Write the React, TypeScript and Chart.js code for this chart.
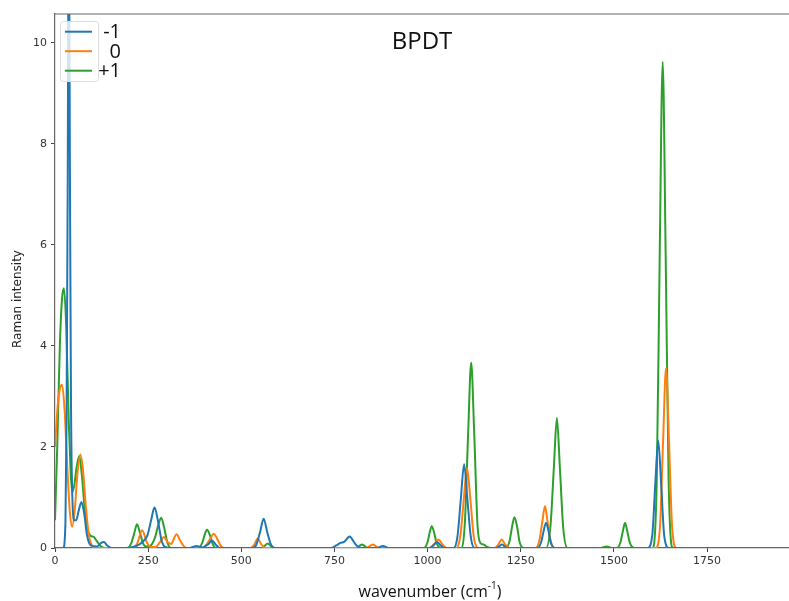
import React, { useEffect, useRef } from "react";
import { Chart, registerables } from "chart.js";

Chart.register(...registerables);

const seriesLabels = ["-1", "0", "+1"];
const seriesColors = ["#1f77b4", "#ff7f0e", "#2ca02c"];

const xTicks = [0, 250, 500, 750, 1000, 1250, 1500, 1750];
const yTicks = [0, 2, 4, 6, 8, 10];

// charge -1
const wavenumberMinus = [
  0, 22, 28, 31, 34, 37, 40, 43, 47, 52, 57, 63, 71, 78, 86, 96, 112, 124, 131, 140, 152,
  190, 215, 235, 248, 258, 267, 276, 286, 296, 310,
  360, 380, 395, 412, 421, 430, 442,
  530, 540, 550, 560, 570, 580, 590,
  740, 755, 766, 776, 791, 802, 812, 825,
  865, 880, 895,
  1005, 1018, 1025, 1034, 1045,
  1070, 1080, 1089, 1098, 1107, 1116, 1126,
  1185, 1200, 1212,
  1295, 1305, 1311, 1318, 1325, 1331, 1342,
  1590, 1603, 1611, 1619, 1627, 1635, 1648,
  1970,
];
const intensityMinus = [
  0, 0, 0.5, 2.5, 7, 13, 7.5, 2.8, 0.9, 0.55, 0.55, 0.72, 0.91, 0.7, 0.25, 0.05, 0.03, 0.1, 0.12, 0.05, 0,
  0, 0.03, 0.12, 0.25, 0.55, 0.8, 0.55, 0.15, 0.02, 0,
  0, 0.04, 0.01, 0.08, 0.15, 0.08, 0,
  0, 0.06, 0.3, 0.58, 0.3, 0.06, 0,
  0, 0.05, 0.1, 0.12, 0.23, 0.12, 0.03, 0,
  0, 0.04, 0,
  0, 0.07, 0.12, 0.06, 0,
  0, 0.22, 0.95, 1.66, 0.95, 0.22, 0,
  0, 0.07, 0,
  0, 0.12, 0.32, 0.5, 0.32, 0.1, 0,
  0, 0.25, 1.25, 2.13, 1.25, 0.25, 0,
  0,
];

// charge 0
const wavenumberNeutral = [
  0, 7, 13, 19, 26, 33, 40, 46, 53, 60, 68, 75, 83, 91, 100, 110,
  205, 220, 234, 246, 258, 270, 282, 292, 302, 312, 320, 326, 336, 348, 360,
  395, 408, 418, 426, 434, 446, 458,
  525, 535, 544, 553, 565,
  835, 853, 870,
  1005, 1018, 1029, 1040, 1052,
  1077, 1088, 1097, 1106, 1115, 1124, 1136,
  1180, 1190, 1199, 1208, 1220,
  1290, 1300, 1308, 1315, 1322, 1330, 1342,
  1612, 1624, 1632, 1640, 1648, 1656, 1668,
  1970,
];
const intensityNeutral = [
  2.0, 2.8, 3.15, 3.23, 2.7, 1.6, 0.7, 0.42, 0.75, 1.45, 1.85, 1.55, 0.8, 0.25, 0.04, 0,
  0, 0.08, 0.35, 0.12, 0.02, 0.02, 0.12, 0.22, 0.12, 0.08, 0.2, 0.27, 0.15, 0.02, 0,
  0, 0.08, 0.2, 0.28, 0.2, 0.03, 0,
  0, 0.07, 0.19, 0.08, 0,
  0, 0.07, 0,
  0, 0.08, 0.17, 0.07, 0,
  0, 0.25, 0.95, 1.58, 0.95, 0.22, 0,
  0, 0.07, 0.17, 0.07, 0,
  0, 0.15, 0.52, 0.83, 0.52, 0.15, 0,
  0, 0.45, 2.1, 3.56, 2.1, 0.45, 0,
  0,
];

// charge +1
const wavenumberPlus = [
  0, 6, 13, 19, 24, 30, 37, 42, 46, 52, 58, 65, 72, 80, 88, 96, 104, 112, 122, 135,
  195, 205, 213, 220, 228, 237, 245, 255, 268, 277, 285, 293, 302, 312,
  385, 395, 402, 408, 415, 423, 432,
  555, 571, 587,
  808, 824, 840,
  990, 1000, 1006, 1011, 1017, 1024, 1035,
  1090, 1100, 1109, 1117, 1125, 1134, 1142, 1150, 1160, 1170,
  1210, 1220, 1227, 1233, 1240, 1247, 1258,
  1318, 1330, 1339, 1347, 1355, 1364, 1376,
  1465, 1480, 1495,
  1508, 1518, 1524, 1530, 1536, 1543, 1555,
  1603, 1615, 1623, 1631, 1639, 1647, 1659,
  1970,
];
const intensityPlus = [
  0.55, 2.0, 4.0, 4.95, 5.14, 4.4, 2.5, 1.5, 1.11, 1.25, 1.6, 1.82, 1.45, 0.75, 0.35, 0.24, 0.22, 0.14, 0.04, 0,
  0, 0.1, 0.3, 0.47, 0.3, 0.08, 0.03, 0.04, 0.2, 0.45, 0.6, 0.4, 0.1, 0,
  0, 0.1, 0.27, 0.36, 0.27, 0.08, 0,
  0, 0.09, 0,
  0, 0.07, 0,
  0, 0.12, 0.32, 0.43, 0.32, 0.1, 0,
  0, 0.5, 2.3, 3.67, 2.3, 0.45, 0.1, 0.07, 0.02, 0,
  0, 0.14, 0.43, 0.61, 0.43, 0.12, 0,
  0, 0.45, 1.6, 2.58, 1.6, 0.4, 0,
  0, 0.03, 0,
  0, 0.12, 0.33, 0.5, 0.33, 0.1, 0,
  0, 1.3, 5.8, 9.62, 5.8, 1.3, 0,
  0,
];

const toPoints = (xs: number[], ys: number[]) => xs.map((x, i) => ({ x, y: ys[i] }));

const decorPlugin = {
  id: "decor",
  afterDatasetsDraw(chart: any) {
    const { ctx, chartArea } = chart;
    const { left, right, top } = chartArea;
    ctx.save();
    // top frame line
    ctx.strokeStyle = "#666";
    ctx.lineWidth = 1.2;
    ctx.beginPath();
    ctx.moveTo(left, top);
    ctx.lineTo(right, top);
    ctx.stroke();

    // legend box
    const bx = left + 5.5, by = 21.5, bw = 38, bh = 60, r = 3;
    ctx.fillStyle = "rgba(255,255,255,0.8)";
    ctx.strokeStyle = "#dddddd";
    ctx.lineWidth = 1;
    ctx.beginPath();
    ctx.moveTo(bx + r, by);
    ctx.lineTo(bx + bw - r, by);
    ctx.quadraticCurveTo(bx + bw, by, bx + bw, by + r);
    ctx.lineTo(bx + bw, by + bh - r);
    ctx.quadraticCurveTo(bx + bw, by + bh, bx + bw - r, by + bh);
    ctx.lineTo(bx + r, by + bh);
    ctx.quadraticCurveTo(bx, by + bh, bx, by + bh - r);
    ctx.lineTo(bx, by + r);
    ctx.quadraticCurveTo(bx, by, bx + r, by);
    ctx.closePath();
    ctx.fill();
    ctx.stroke();

    chart.data.datasets.forEach((ds: any, i: number) => {
      const y = 31.7 + i * 19.5;
      ctx.strokeStyle = ds.borderColor;
      ctx.lineWidth = 2;
      ctx.beginPath();
      ctx.moveTo(65, y);
      ctx.lineTo(92, y);
      ctx.stroke();
      ctx.fillStyle = "#111";
      ctx.font = "20px 'Open Sans'";
      ctx.textAlign = "right";
      ctx.textBaseline = "middle";
      ctx.fillText(ds.label, 121, y + 1);
    });

    // title
    ctx.fillStyle = "#111";
    ctx.font = "24px 'Open Sans'";
    ctx.textAlign = "center";
    ctx.textBaseline = "alphabetic";
    ctx.fillText("BPDT", 422, 49);

    // x-axis title with superscript
    const main = "wavenumber (cm";
    const sup = "-1";
    const close = ")";
    ctx.font = "16px 'Open Sans'";
    const wMain = ctx.measureText(main).width;
    const wClose = ctx.measureText(close).width;
    ctx.font = "10px 'Open Sans'";
    const wSup = ctx.measureText(sup).width;
    const total = wMain + wSup + wClose;
    const x0 = 430 - total / 2;
    ctx.textAlign = "left";
    ctx.font = "16px 'Open Sans'";
    ctx.fillText(main, x0, 597);
    ctx.font = "10px 'Open Sans'";
    ctx.fillText(sup, x0 + wMain, 589);
    ctx.font = "16px 'Open Sans'";
    ctx.fillText(close, x0 + wMain + wSup, 597);

    // y-axis title
    ctx.save();
    ctx.translate(18, 299);
    ctx.rotate(-Math.PI / 2);
    ctx.font = "12px 'DejaVu Sans'";
    ctx.fillStyle = "#222";
    ctx.textAlign = "center";
    ctx.textBaseline = "middle";
    ctx.fillText("Raman intensity", 0, 0);
    ctx.restore();

    ctx.restore();
  },
};

export default function App() {
  const canvasRef = useRef<HTMLCanvasElement | null>(null);

  useEffect(() => {
    if (!canvasRef.current) return;
    const seriesX = [wavenumberMinus, wavenumberNeutral, wavenumberPlus];
    const seriesY = [intensityMinus, intensityNeutral, intensityPlus];
    const chart = new Chart(canvasRef.current, {
      type: "line",
      data: {
        datasets: seriesLabels.map((label, i) => ({
          label,
          data: toPoints(seriesX[i], seriesY[i]),
          borderColor: seriesColors[i],
          backgroundColor: seriesColors[i],
          borderWidth: 2,
          pointRadius: 0,
          fill: false,
          cubicInterpolationMode: "monotone" as const,
        })),
      },
      options: {
        responsive: false,
        animation: false,
        layout: { padding: { top: 14, right: 0, left: 0, bottom: 0 } },
        plugins: {
          legend: { display: false },
          title: { display: false },
          tooltip: { enabled: false },
        },
        scales: {
          x: {
            type: "linear",
            min: 0,
            max: 1970,
            afterBuildTicks: (scale: any) => {
              scale.ticks = xTicks.map((v) => ({ value: v }));
            },
            afterFit: (scale: any) => {
              scale.height = 53;
            },
            grid: {
              display: true,
              drawOnChartArea: false,
              drawTicks: true,
              tickLength: 4,
              tickColor: "#444",
              tickWidth: 1,
            },
            border: { display: true, color: "#666", width: 1.2 },
            ticks: {
              color: "#333",
              font: { family: "'DejaVu Sans'", size: 11 },
              padding: 3,
              maxRotation: 0,
              autoSkip: false,
              callback: (v: any) => String(v),
            },
          },
          y: {
            type: "linear",
            min: 0,
            max: 10.57,
            afterBuildTicks: (scale: any) => {
              scale.ticks = yTicks.map((v) => ({ value: v }));
            },
            afterFit: (scale: any) => {
              scale.width = 55;
            },
            grid: {
              display: true,
              drawOnChartArea: false,
              drawTicks: true,
              tickLength: 4,
              tickColor: "#444",
              tickWidth: 1,
            },
            border: { display: true, color: "#666", width: 1.2 },
            ticks: {
              color: "#333",
              font: { family: "'DejaVu Sans'", size: 11 },
              padding: 4,
              autoSkip: false,
              callback: (v: any) => String(v),
            },
          },
        },
      },
      plugins: [decorPlugin],
    });
    return () => chart.destroy();
  }, []);

  return (
    <div style={{ position: "absolute", left: 0, top: 0, width: 789, height: 601, background: "#fff" }}>
      <canvas ref={canvasRef} width={789} height={601} />
    </div>
  );
}
